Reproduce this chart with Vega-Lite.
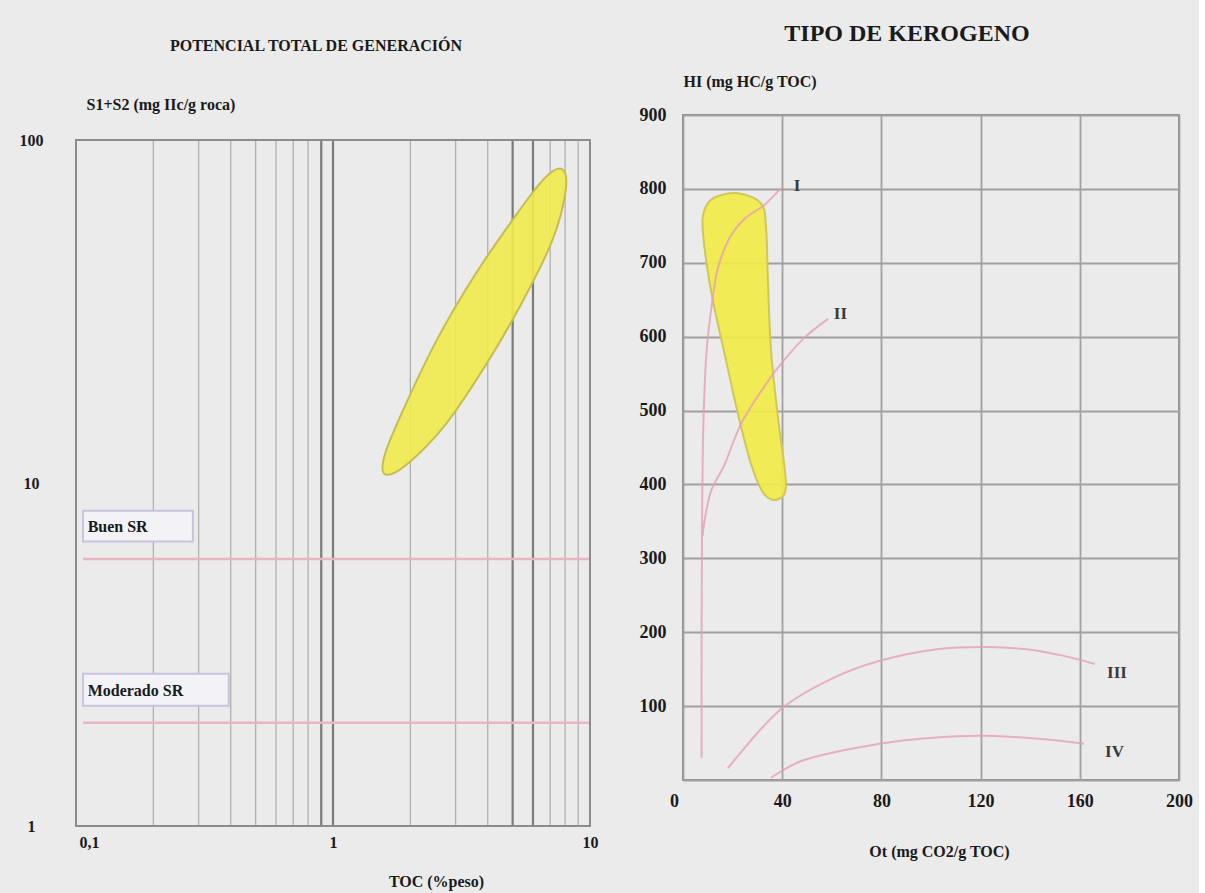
{
  "$schema": "https://vega.github.io/schema/vega-lite/v6.json",
  "background": "#ebebeb",
  "padding": {"left": 19, "top": 21, "right": 5, "bottom": 5},
  "spacing": 40,
  "config": {
    "font": "Liberation Serif",
    "view": {"stroke": "#8c8c8c", "strokeWidth": 2},
    "axis": {
      "labelFont": "Liberation Serif", "labelFontWeight": "bold", "labelColor": "#1a1a1a",
      "titleFont": "Liberation Serif", "titleFontWeight": "bold", "titleColor": "#1a1a1a",
      "domain": false, "ticks": false
    },
    "title": {"font": "Liberation Serif", "fontWeight": "bold", "color": "#1a1a1a"}
  },
  "datasets": {
    "rejilla": [
      {"toc": 0.2, "trazo": "fino"},
      {"toc": 0.3, "trazo": "fino"},
      {"toc": 0.4, "trazo": "fino"},
      {"toc": 0.5, "trazo": "fino"},
      {"toc": 0.6, "trazo": "fino"},
      {"toc": 0.7, "trazo": "fino"},
      {"toc": 0.8, "trazo": "fino"},
      {"toc": 0.9, "trazo": "grueso"},
      {"toc": 1, "trazo": "grueso"},
      {"toc": 2, "trazo": "fino"},
      {"toc": 3, "trazo": "fino"},
      {"toc": 4, "trazo": "fino"},
      {"toc": 5, "trazo": "grueso"},
      {"toc": 6, "trazo": "grueso"},
      {"toc": 7, "trazo": "fino"},
      {"toc": 8, "trazo": "fino"},
      {"toc": 9, "trazo": "fino"}
    ],
    "umbrales": [
      {"clase": "Buen SR", "s1s2": 6, "x_ini": 0.1065, "x_fin": 10, "caja_x0": 0.1065, "caja_x1": 0.285, "caja_y0": 8.3, "caja_y1": 6.75, "texto_x": 0.111, "texto_y": 7.45},
      {"clase": "Moderado SR", "s1s2": 2, "x_ini": 0.1065, "x_fin": 10, "caja_x0": 0.1065, "caja_x1": 0.393, "caja_y0": 2.78, "caja_y1": 2.24, "texto_x": 0.111, "texto_y": 2.48}
    ],
    "elipse": [
      {"i": 1, "toc": 7.78, "s1s2": 82.3},
      {"i": 2, "toc": 8.04, "s1s2": 71.2},
      {"i": 3, "toc": 7.11, "s1s2": 50.6},
      {"i": 4, "toc": 5.38, "s1s2": 33.1},
      {"i": 5, "toc": 3.92, "s1s2": 22.0},
      {"i": 6, "toc": 2.75, "s1s2": 14.86},
      {"i": 7, "toc": 1.93, "s1s2": 11.31},
      {"i": 8, "toc": 1.59, "s1s2": 10.62},
      {"i": 9, "toc": 1.6, "s1s2": 12.28},
      {"i": 10, "toc": 1.94, "s1s2": 17.28},
      {"i": 11, "toc": 2.56, "s1s2": 26.5},
      {"i": 12, "toc": 3.52, "s1s2": 39.8},
      {"i": 13, "toc": 5.02, "s1s2": 58.8},
      {"i": 14, "toc": 6.65, "s1s2": 77.3}
    ],
    "mancha": [
      {"i": 1, "ot": 22.2, "hi": 794},
      {"i": 2, "ot": 31.5, "hi": 780},
      {"i": 3, "ot": 33.5, "hi": 747},
      {"i": 4, "ot": 34.3, "hi": 671},
      {"i": 5, "ot": 35.5, "hi": 581},
      {"i": 6, "ot": 38.3, "hi": 490},
      {"i": 7, "ot": 41.5, "hi": 401},
      {"i": 8, "ot": 38.3, "hi": 380},
      {"i": 9, "ot": 32.7, "hi": 387},
      {"i": 10, "ot": 27.4, "hi": 428},
      {"i": 11, "ot": 22.2, "hi": 495},
      {"i": 12, "ot": 16.5, "hi": 581},
      {"i": 13, "ot": 11.3, "hi": 662},
      {"i": 14, "ot": 8.1, "hi": 739},
      {"i": 15, "ot": 8.5, "hi": 770},
      {"i": 16, "ot": 12.5, "hi": 788}
    ],
    "curvas": [
      {"tipo": "I", "i": 1, "ot": 7.5, "hi": 30},
      {"tipo": "I", "i": 2, "ot": 7.5, "hi": 200},
      {"tipo": "I", "i": 3, "ot": 7.7, "hi": 350},
      {"tipo": "I", "i": 4, "ot": 8.2, "hi": 480},
      {"tipo": "I", "i": 5, "ot": 9.5, "hi": 580},
      {"tipo": "I", "i": 6, "ot": 11.5, "hi": 640},
      {"tipo": "I", "i": 7, "ot": 14.1, "hi": 693},
      {"tipo": "I", "i": 8, "ot": 19, "hi": 735},
      {"tipo": "I", "i": 9, "ot": 25, "hi": 760},
      {"tipo": "I", "i": 10, "ot": 32.7, "hi": 778},
      {"tipo": "I", "i": 11, "ot": 39.5, "hi": 801},
      {"tipo": "II", "i": 1, "ot": 7.8, "hi": 330},
      {"tipo": "II", "i": 2, "ot": 11.3, "hi": 391},
      {"tipo": "II", "i": 3, "ot": 16.5, "hi": 425},
      {"tipo": "II", "i": 4, "ot": 23.4, "hi": 482},
      {"tipo": "II", "i": 5, "ot": 31.5, "hi": 526},
      {"tipo": "II", "i": 6, "ot": 38.3, "hi": 558},
      {"tipo": "II", "i": 7, "ot": 48.8, "hi": 598},
      {"tipo": "II", "i": 8, "ot": 58.5, "hi": 624},
      {"tipo": "III", "i": 1, "ot": 18.1, "hi": 16},
      {"tipo": "III", "i": 2, "ot": 39.9, "hi": 97},
      {"tipo": "III", "i": 3, "ot": 60.5, "hi": 138},
      {"tipo": "III", "i": 4, "ot": 79, "hi": 161},
      {"tipo": "III", "i": 5, "ot": 102.4, "hi": 177},
      {"tipo": "III", "i": 6, "ot": 122.6, "hi": 180},
      {"tipo": "III", "i": 7, "ot": 138.3, "hi": 177},
      {"tipo": "III", "i": 8, "ot": 153.6, "hi": 168},
      {"tipo": "III", "i": 9, "ot": 166.1, "hi": 157},
      {"tipo": "IV", "i": 1, "ot": 35.5, "hi": 3},
      {"tipo": "IV", "i": 2, "ot": 48, "hi": 26},
      {"tipo": "IV", "i": 3, "ot": 79, "hi": 49},
      {"tipo": "IV", "i": 4, "ot": 99.2, "hi": 57},
      {"tipo": "IV", "i": 5, "ot": 122.6, "hi": 60},
      {"tipo": "IV", "i": 6, "ot": 146, "hi": 55},
      {"tipo": "IV", "i": 7, "ot": 161.7, "hi": 49}
    ],
    "etiquetas": [
      {"tipo": "I", "ot": 46, "hi": 804},
      {"tipo": "II", "ot": 63.5, "hi": 631},
      {"tipo": "III", "ot": 175, "hi": 145},
      {"tipo": "IV", "ot": 174, "hi": 38}
    ]
  },
  "hconcat": [
    {
      "width": 514,
      "height": 711,
      "view": {"stroke": null},
      "title": {"text": "POTENCIAL TOTAL DE GENERACIÓN", "fontSize": 16, "offset": 42, "dx": -17},
      "layer": [
        {
          "data": {"name": "rejilla"},
          "mark": {"type": "rule"},
          "encoding": {
            "x": {
              "field": "toc", "type": "quantitative",
              "scale": {"type": "log", "domain": [0.1, 10]},
              "axis": {
                "values": [0.1, 1, 10],
                "grid": false,
                "labelExpr": "datum.value == 0.1 ? '0,1' : datum.value == 1 ? '1' : '10'",
                "labelOverlap": false,
                "labelFlush": false,
                "labelFontSize": 16,
                "labelPadding": 8,
                "labelOffset": {"condition": {"test": "datum.value < 0.5", "value": 13}, "value": 0},
                "title": "TOC (%peso)",
                "titleFontSize": 16,
                "titleX": 360,
                "titleY": 55,
                "titleAlign": "center",
                "titleBaseline": "middle"
              }
            },
            "y": {
              "datum": 1, "type": "quantitative",
              "scale": {"type": "log", "domain": [1, 118.3], "nice": false},
              "axis": {
                "values": [1, 10, 100],
                "format": "d",
                "grid": false,
                "labelOverlap": false,
                "labelFlush": false,
                "labelAlign": "center",
                "labelBaseline": "middle",
                "labelPadding": 45,
                "labelFontSize": 16,
                "title": "S1+S2 (mg IIc/g roca)",
                "titleFontSize": 16,
                "titleAngle": 0,
                "titleAlign": "left",
                "titleBaseline": "middle",
                "titleX": 10,
                "titleY": -11
              }
            },
            "y2": {"datum": 100},
            "color": {"field": "trazo", "type": "nominal", "scale": {"domain": ["fino", "grueso"], "range": ["#b0b0b0", "#7a7a7a"]}, "legend": null},
            "strokeWidth": {"field": "trazo", "type": "nominal", "scale": {"domain": ["fino", "grueso"], "range": [1.3, 2.2]}, "legend": null}
          }
        },
        {
          "data": {"name": "umbrales"},
          "mark": {"type": "rule", "color": "#e8b6c3", "strokeWidth": 2.5},
          "encoding": {
            "x": {"field": "x_ini", "type": "quantitative"},
            "x2": {"field": "x_fin"},
            "y": {"field": "s1s2", "type": "quantitative"}
          }
        },
        {
          "data": {"values": [{"marco": "borde"}]},
          "mark": {"type": "rect", "fill": null, "stroke": "#8c8c8c", "strokeWidth": 2},
          "encoding": {
            "x": {"datum": 0.1, "type": "quantitative"},
            "x2": {"datum": 10},
            "y": {"datum": 1, "type": "quantitative"},
            "y2": {"datum": 100}
          }
        },
        {
          "data": {"name": "umbrales"},
          "mark": {"type": "rect", "fill": "#f3f3f7", "stroke": "#c9c3dc", "strokeWidth": 2},
          "encoding": {
            "x": {"field": "caja_x0", "type": "quantitative"},
            "x2": {"field": "caja_x1"},
            "y": {"field": "caja_y0", "type": "quantitative"},
            "y2": {"field": "caja_y1"}
          }
        },
        {
          "data": {"name": "umbrales"},
          "mark": {"type": "text", "align": "left", "baseline": "middle", "font": "Liberation Serif", "fontWeight": "bold", "fontSize": 16, "color": "#1a1a1a"},
          "encoding": {
            "x": {"field": "texto_x", "type": "quantitative"},
            "y": {"field": "texto_y", "type": "quantitative"},
            "text": {"field": "clase"}
          }
        },
        {
          "data": {"name": "elipse"},
          "mark": {"type": "line", "interpolate": "cardinal-closed", "fill": "#f1eb4c", "fillOpacity": 0.9, "stroke": "#c3bd52", "strokeWidth": 2},
          "encoding": {
            "x": {"field": "toc", "type": "quantitative"},
            "y": {"field": "s1s2", "type": "quantitative"},
            "order": {"field": "i", "type": "quantitative"}
          }
        }
      ]
    },
    {
      "width": 496,
      "height": 665,
      "title": {"text": "TIPO DE KEROGENO", "fontSize": 24, "offset": 27, "dx": -24},
      "layer": [
        {
          "data": {"name": "mancha"},
          "mark": {"type": "line", "interpolate": "cardinal-closed", "fill": "#f1ea48", "fillOpacity": 0.92, "stroke": "#cfc75a", "strokeWidth": 2},
          "encoding": {
            "x": {
              "field": "ot", "type": "quantitative",
              "scale": {"domain": [0, 200]},
              "axis": {
                "values": [0, 40, 80, 120, 160, 200],
                "grid": true,
                "gridColor": "#a0a0a0",
                "gridWidth": 1.8,
                "labelFontSize": 18,
                "labelPadding": 12,
                "labelFlush": false,
                "labelOffset": {"condition": {"test": "datum.value == 0", "value": -9}, "value": 0},
                "title": "Ot (mg CO2/g TOC)",
                "titleFontSize": 16,
                "titleX": 256,
                "titleY": 71,
                "titleAlign": "center",
                "titleBaseline": "middle"
              }
            },
            "y": {
              "field": "hi", "type": "quantitative",
              "scale": {"domain": [0, 900]},
              "axis": {
                "values": [0, 100, 200, 300, 400, 500, 600, 700, 800, 900],
                "grid": true,
                "gridColor": "#a0a0a0",
                "gridWidth": 1.8,
                "labelExpr": "datum.value == 0 ? '' : datum.label",
                "labelFontSize": 18,
                "labelPadding": 17,
                "labelFlush": false,
                "labelBaseline": "middle",
                "title": "HI (mg HC/g TOC)",
                "titleFontSize": 16,
                "titleAngle": 0,
                "titleAlign": "left",
                "titleBaseline": "middle",
                "titleX": 0,
                "titleY": -34
              }
            },
            "order": {"field": "i", "type": "quantitative"}
          }
        },
        {
          "data": {"name": "curvas"},
          "mark": {"type": "line", "interpolate": "catmull-rom", "color": "#e3a0b3", "strokeWidth": 2, "opacity": 0.8},
          "encoding": {
            "x": {"field": "ot", "type": "quantitative"},
            "y": {"field": "hi", "type": "quantitative"},
            "detail": {"field": "tipo"},
            "order": {"field": "i", "type": "quantitative"}
          }
        },
        {
          "data": {"name": "etiquetas"},
          "mark": {"type": "text", "font": "Liberation Serif", "fontWeight": "bold", "fontSize": 17, "color": "#3a3a3a", "align": "center", "baseline": "middle"},
          "encoding": {
            "x": {"field": "ot", "type": "quantitative"},
            "y": {"field": "hi", "type": "quantitative"},
            "text": {"field": "tipo"}
          }
        }
      ]
    }
  ],
  "resolve": {"scale": {"color": "independent", "strokeWidth": "independent"}}
}
